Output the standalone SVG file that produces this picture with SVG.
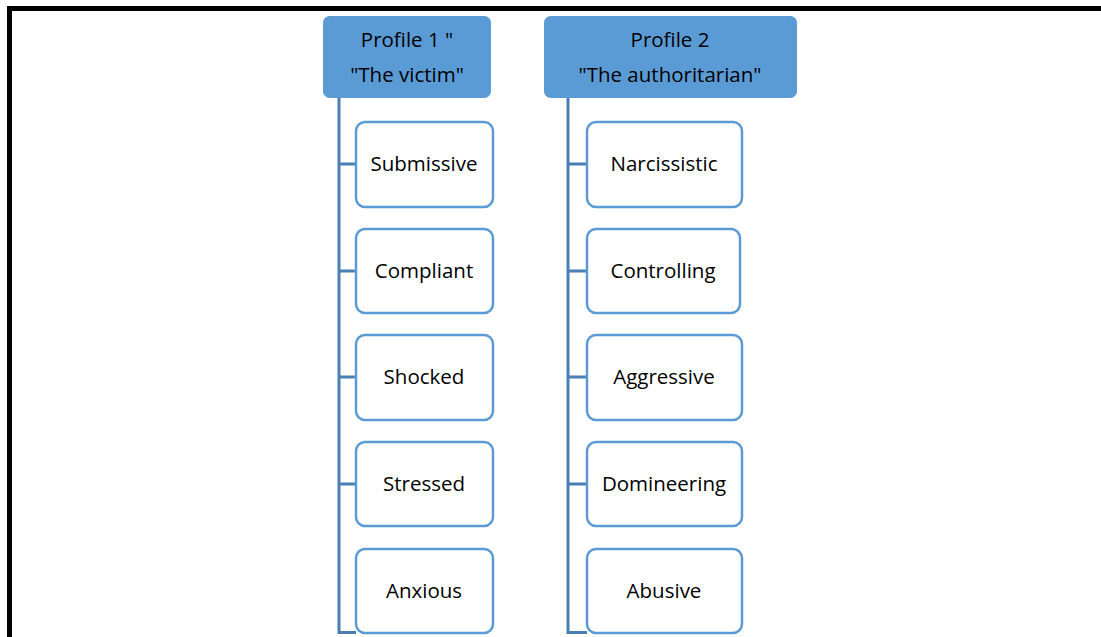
<svg xmlns="http://www.w3.org/2000/svg" width="1101" height="637" viewBox="0 0 1101 637">
<style>
.hdr{fill:#5b9bd5;stroke:#5b9bd5;stroke-width:1}
.box{fill:#ffffff;stroke:#5b9bd5;stroke-width:2.5}
.con{fill:none;stroke:#4a7fb5;stroke-width:3}
text{font-family:"Open Sans","Liberation Sans",sans-serif;font-size:20.5px;fill:#000;text-anchor:middle}
</style>
<rect width="1101" height="637" fill="#ffffff"/>
<path d="M9.5,637 V8.5 H1101" fill="none" stroke="#000" stroke-width="5"/>
<g id="connectors">
<path class="con" d="M339,98 V632.5 H356"/>
<path class="con" d="M339,164 H356 M339,271 H356 M339,377 H356 M339,484 H356"/>
<path class="con" d="M568,98 V632.5 H587"/>
<path class="con" d="M568,164 H587 M568,271 H587 M568,377 H587 M568,484 H587"/>
</g>
<g id="profile1">
<rect class="hdr" x="323.5" y="16.5" width="167" height="81" rx="6"/>
<text x="407" y="47">Profile 1 "</text>
<text x="407" y="82">"The victim"</text>
</g>
<g id="profile2">
<rect class="hdr" x="544.5" y="16.5" width="252" height="81" rx="6"/>
<text x="670" y="47">Profile 2</text>
<text x="670" y="82">"The authoritarian"</text>
</g>
<g id="submissive"><rect class="box" x="356" y="122" width="137" height="85" rx="9"/><text x="424" y="171">Submissive</text></g>
<g id="compliant"><rect class="box" x="356" y="229" width="137" height="84" rx="9"/><text x="424" y="278">Compliant</text></g>
<g id="shocked"><rect class="box" x="356" y="335" width="137" height="85" rx="9"/><text x="424" y="384">Shocked</text></g>
<g id="stressed"><rect class="box" x="356" y="442" width="137" height="84" rx="9"/><text x="424" y="491">Stressed</text></g>
<g id="anxious"><rect class="box" x="356" y="549" width="137" height="84" rx="9"/><text x="424" y="598">Anxious</text></g>
<g id="narcissistic"><rect class="box" x="587" y="122" width="155" height="85" rx="9"/><text x="664" y="171">Narcissistic</text></g>
<g id="controlling"><rect class="box" x="587" y="229" width="153" height="84" rx="9"/><text x="663" y="278">Controlling</text></g>
<g id="aggressive"><rect class="box" x="587" y="335" width="155" height="85" rx="9"/><text x="664" y="384">Aggressive</text></g>
<g id="domineering"><rect class="box" x="587" y="442" width="155" height="84" rx="9"/><text x="664" y="491">Domineering</text></g>
<g id="abusive"><rect class="box" x="587" y="549" width="155" height="84" rx="9"/><text x="664" y="598">Abusive</text></g>
</svg>
